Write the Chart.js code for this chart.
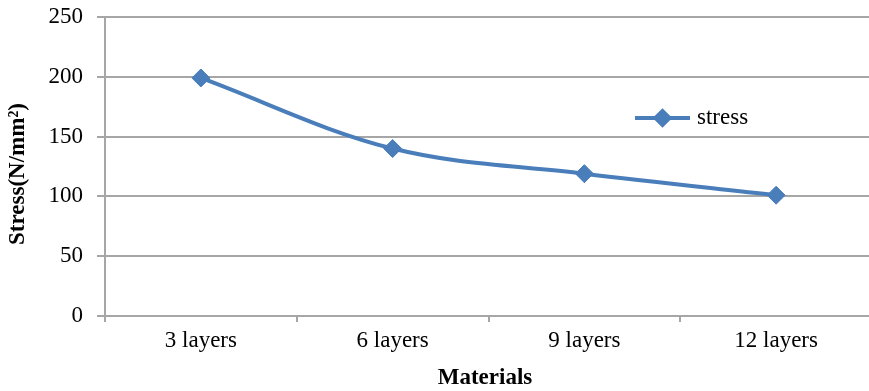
<!DOCTYPE html>
<html>
<head>
<meta charset="utf-8">
<script src="https://cdn.jsdelivr.net/npm/chart.js@4"></script>
<style>
  html, body { margin: 0; padding: 0; background: #ffffff; overflow: hidden; }
  #wrap { width: 869px; height: 391px; position: relative; overflow: hidden; }
  #c { display: block; }
</style>
</head>
<body>
<div id="wrap"><canvas id="c" width="872" height="391"></canvas></div>
<script>
// Stress against number of layers (plot runs slightly past the right edge of the frame)
const categories = ['3 layers', '6 layers', '9 layers', '12 layers'];
const stressValues = [199, 140, 119, 101];
const seriesName = 'stress';
const yTickValues = [0, 50, 100, 150, 200, 250];
const xTitle = 'Materials';
const yTitle = 'Stress(N/mm\u00B2)';

const SERIF = '"Liberation Serif", "Times New Roman", serif';
const LINE_BLUE = '#4a7ebb';
const GRID_GREY = '#a6a6a6';
const FONT_SIZE = 23;

// Legend placed inside the plot, plus the two axis titles
const annotations = {
  id: 'annotations',
  afterDatasetsDraw(chart) {
    const ctx = chart.ctx;
    const ds = chart.data.datasets[0];
    ctx.save();
    // legend entry
    const ly = 118, lx0 = 635, lx1 = 690;
    ctx.strokeStyle = ds.borderColor;
    ctx.lineWidth = ds.borderWidth;
    ctx.beginPath();
    ctx.moveTo(lx0, ly);
    ctx.lineTo(lx1, ly);
    ctx.stroke();
    Chart.helpers.drawPoint(ctx, {
      pointStyle: ds.pointStyle, radius: 7, borderWidth: 1
    }, (lx0 + lx1) / 2, ly);
    ctx.fillStyle = ds.pointBackgroundColor;
    ctx.fill();
    ctx.fillStyle = '#000';
    ctx.font = FONT_SIZE + 'px ' + SERIF;
    ctx.textBaseline = 'middle';
    ctx.textAlign = 'left';
    ctx.fillText(ds.label, 697, ly);
    // x axis title
    ctx.font = 'bold ' + FONT_SIZE + 'px ' + SERIF;
    ctx.textAlign = 'center';
    ctx.fillText(xTitle, 485, 378);
    // y axis title
    ctx.translate(18, 174);
    ctx.rotate(-Math.PI / 2);
    ctx.fillText(yTitle, 0, 0);
    ctx.restore();
  }
};

new Chart(document.getElementById('c'), {
  type: 'line',
  data: {
    labels: categories,
    datasets: [{
      label: seriesName,
      data: stressValues,
      borderColor: LINE_BLUE,
      backgroundColor: LINE_BLUE,
      borderWidth: 4,
      tension: 0.35,
      pointStyle: 'rectRot',
      pointRadius: 9,
      pointBorderWidth: 1,
      pointBackgroundColor: LINE_BLUE,
      pointBorderColor: LINE_BLUE,
      clip: false
    }]
  },
  options: {
    responsive: false,
    animation: false,
    devicePixelRatio: 1,
    layout: { autoPadding: false, padding: { top: 17, right: 0, left: 0, bottom: 0 } },
    plugins: {
      legend: { display: false },
      tooltip: { enabled: false }
    },
    scales: {
      x: {
        offset: true,
        grid: {
          offset: true,
          drawOnChartArea: false,
          // no tick mark at the far right end of the category axis
          color: (c) => (c.index >= categories.length ? 'rgba(0,0,0,0)' : GRID_GREY),
          lineWidth: 2,
          tickLength: 6
        },
        border: { color: GRID_GREY, width: 2 },
        ticks: {
          color: '#000',
          font: { family: SERIF, size: FONT_SIZE },
          padding: 5,
          maxRotation: 0
        },
        afterFit(scale) {
          scale.height = 75;
          scale.paddingLeft = 0;
          scale.paddingRight = 0;
        }
      },
      y: {
        min: 0,
        max: 250,
        afterBuildTicks(scale) {
          scale.ticks = yTickValues.map(v => ({ value: v }));
        },
        grid: {
          color: GRID_GREY,
          lineWidth: 2,
          tickLength: 8
        },
        border: { color: GRID_GREY, width: 2 },
        ticks: {
          color: '#000',
          font: { family: SERIF, size: FONT_SIZE },
          padding: 14
        },
        afterFit(scale) {
          scale.width = 105;
          scale.paddingTop = 0;
          scale.paddingBottom = 0;
        }
      }
    }
  },
  plugins: [annotations]
});
</script>
</body>
</html>
